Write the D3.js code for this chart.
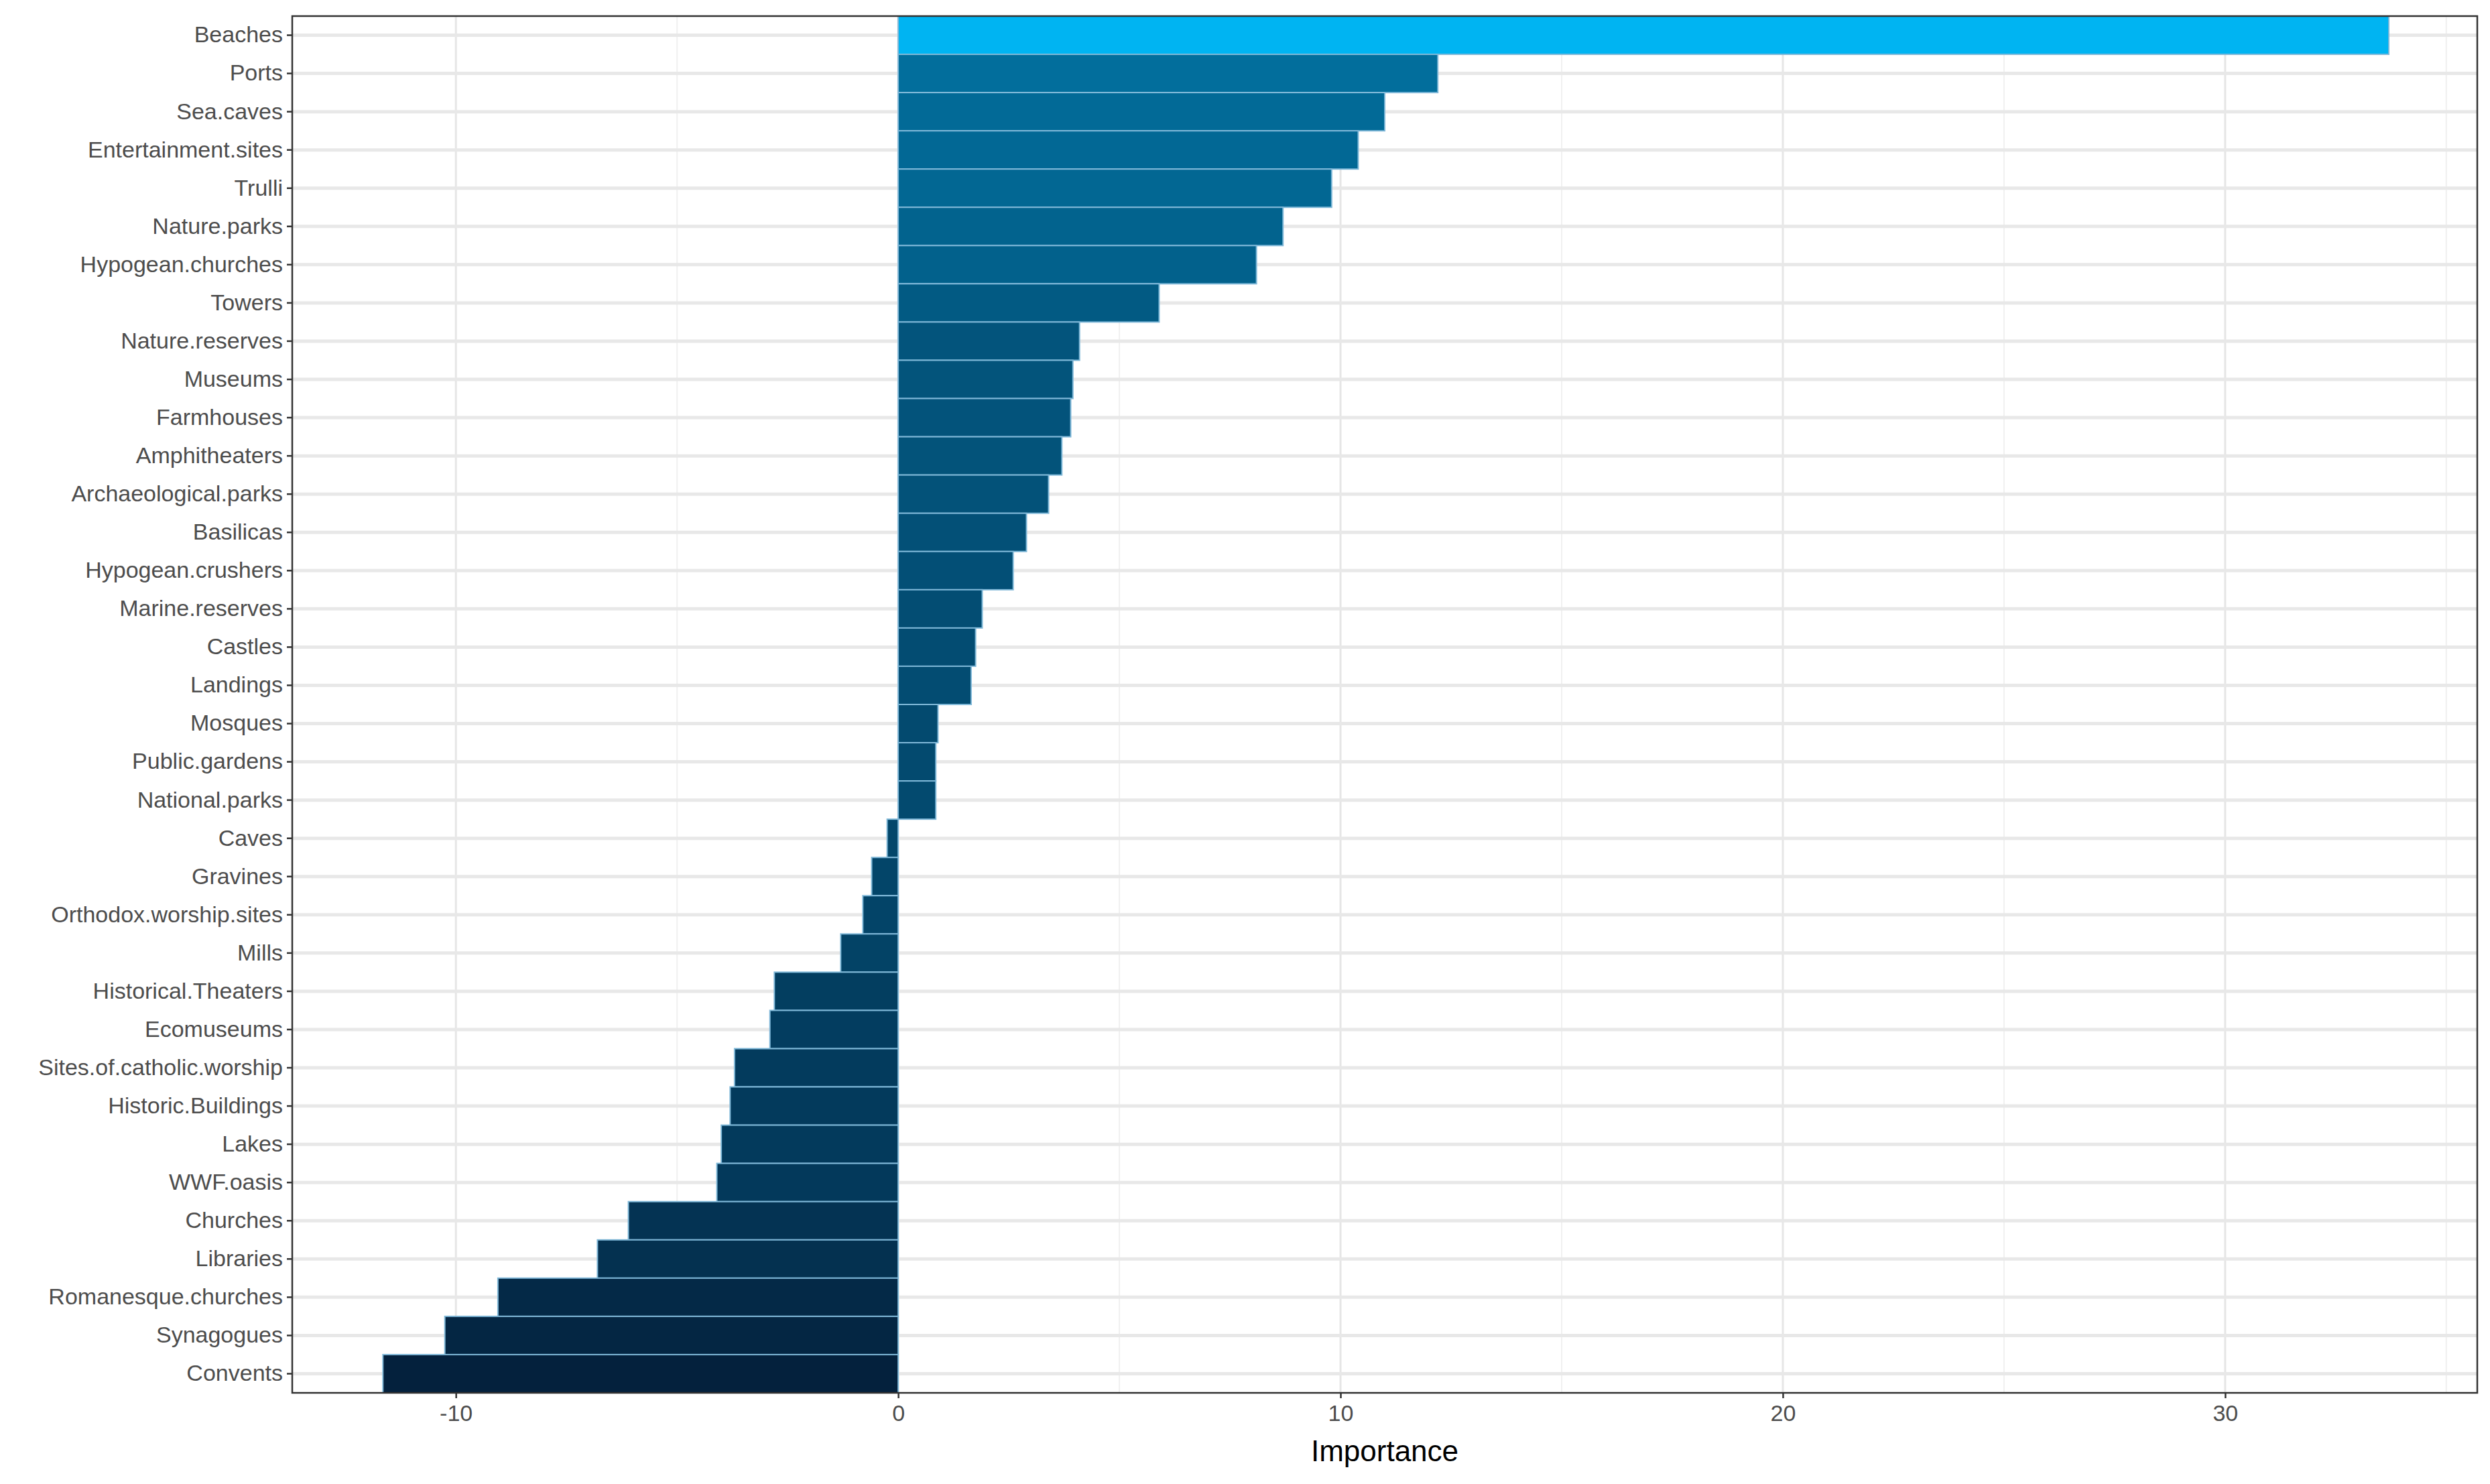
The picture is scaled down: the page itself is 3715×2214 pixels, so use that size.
<!DOCTYPE html>
<html>
<head>
<meta charset="utf-8">
<script src="https://cdn.jsdelivr.net/npm/d3@7"></script>
<style>
  body { margin: 0; background: #fff; }
  text { font-family: "Liberation Sans", Arial, sans-serif; }
</style>
</head>
<body>
<svg id="chart" width="3715" height="2214"></svg>
<script>
var categories = ["Beaches","Ports","Sea.caves","Entertainment.sites","Trulli","Nature.parks",
  "Hypogean.churches","Towers","Nature.reserves","Museums","Farmhouses","Amphitheaters",
  "Archaeological.parks","Basilicas","Hypogean.crushers","Marine.reserves","Castles","Landings",
  "Mosques","Public.gardens","National.parks","Caves","Gravines","Orthodox.worship.sites","Mills",
  "Historical.Theaters","Ecomuseums","Sites.of.catholic.worship","Historic.Buildings","Lakes",
  "WWF.oasis","Churches","Libraries","Romanesque.churches","Synagogues","Convents"];
var importance = [33.7,12.2,11.0,10.4,9.8,8.7,8.1,5.9,4.1,3.95,3.9,3.7,3.4,2.9,2.6,1.9,1.75,1.65,
  0.9,0.85,0.85,-0.25,-0.6,-0.8,-1.3,-2.8,-2.9,-3.7,-3.8,-4.0,-4.1,-6.1,-6.8,-9.05,-10.25,-11.65];
var xTicks = [-10,0,10,20,30];
var xMinor = [-5,5,15,25,35];

var svg = d3.select("#chart");
var pLeft = 436, pRight = 3696, pTop = 24, pBottom = 2078;

var x = d3.scaleLinear().domain([-13.7, 35.7]).range([pLeft, pRight]);
var y = d3.scaleBand().domain(categories).range([pTop, pBottom]).padding(0);
var color = d3.scaleLinear().domain(d3.extent(importance))
  .range(["#04213d", "#00b4f2"]).interpolate(d3.interpolateRgb);

// grid
svg.append("g").selectAll("line").data(xMinor).join("line")
  .attr("x1", d => x(d)).attr("x2", d => x(d)).attr("y1", pTop).attr("y2", pBottom)
  .attr("stroke", "#f0f0f0").attr("stroke-width", 2);
svg.append("g").selectAll("line").data(xTicks).join("line")
  .attr("x1", d => x(d)).attr("x2", d => x(d)).attr("y1", pTop).attr("y2", pBottom)
  .attr("stroke", "#e6e6e6").attr("stroke-width", 3);
svg.append("g").selectAll("line").data(categories).join("line")
  .attr("x1", pLeft).attr("x2", pRight)
  .attr("y1", d => y(d) + y.bandwidth() / 2).attr("y2", d => y(d) + y.bandwidth() / 2)
  .attr("stroke", "#e8e8e8").attr("stroke-width", 5);

// bars
svg.append("g").selectAll("rect").data(categories).join("rect")
  .attr("x", (d, i) => x(Math.min(0, importance[i])))
  .attr("width", (d, i) => Math.abs(x(importance[i]) - x(0)))
  .attr("y", d => y(d))
  .attr("height", y.bandwidth())
  .attr("fill", (d, i) => color(importance[i]))
  .attr("stroke", "#7fb8d8").attr("stroke-width", 2);

// panel border
svg.append("rect").attr("x", pLeft).attr("y", pTop)
  .attr("width", pRight - pLeft).attr("height", pBottom - pTop)
  .attr("fill", "none").attr("stroke", "#333").attr("stroke-width", 2.5);

// axes
var yAxis = svg.append("g").attr("transform", "translate(" + pLeft + ",0)")
  .call(d3.axisLeft(y).tickSize(8).tickPadding(6));
var xAxis = svg.append("g").attr("transform", "translate(0," + pBottom + ")")
  .call(d3.axisBottom(x).tickValues(xTicks).tickFormat(d => String(d)).tickSize(8).tickPadding(10));
[yAxis, xAxis].forEach(function (a) {
  a.select(".domain").remove();
  a.selectAll(".tick line").attr("stroke", "#333").attr("stroke-width", 2.5);
  a.selectAll(".tick text").attr("fill", "#4d4d4d").style("font-size", "34px");
});

svg.append("text")
  .attr("x", (pLeft + pRight) / 2).attr("y", 2180)
  .attr("text-anchor", "middle").style("font-size", "44px").attr("fill", "#000")
  .text("Importance");
</script>
</body>
</html>
